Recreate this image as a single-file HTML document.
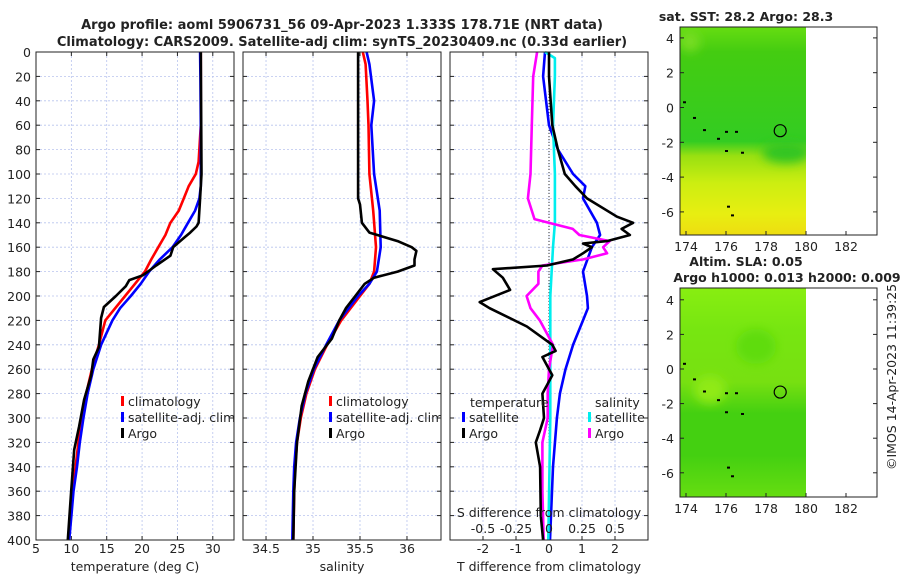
<!DOCTYPE html>
<html><head><meta charset="utf-8"><style>
body{margin:0;background:#fff}
svg{display:block;font-family:"DejaVu Sans","Liberation Sans",sans-serif}
</style></head><body>
<svg id="c" width="900" height="580" viewBox="0 0 900 580"></svg>
<script>
const depths=[0,20,60,90,100,110,120,130,140,150,160,170,180,190,200,210,220,240,260,280,300,320,340,360,380,400];
const tClim=[28.3,28.3,28.3,28,27.6,26.6,25.9,25.2,24,23.3,22.3,21.3,20.4,19,17.6,16.2,14.8,13.9,12.9,12.1,11.5,11,10.6,10.2,9.9,9.6];
const tSat=[28.2,28.25,28.3,28.3,28.3,28.3,28.1,27.5,26.5,25.5,24.3,22.5,21,19.8,18.4,16.9,15.8,14.2,13.1,12.3,11.7,11.2,10.8,10.3,10,9.7];
const argoDepths=[0,100,120,140,143,148,152,160,167,175,183,187,192,200,209,218,242,252,265,285,307,326,362,400];
const tArgo=[28.3,28.4,28.2,28,27.7,26.8,26,24.4,24,22,20.1,18.2,17.7,16.3,14.6,14.2,13.9,13.1,12.8,11.8,11.1,10.4,9.95,9.5];
const sDepths=[0,10,40,60,100,130,160,180,190,200,210,220,240,260,280,300,320,340,360,400];
const sClim=[35.53,35.56,35.58,35.59,35.6,35.64,35.67,35.65,35.6,35.5,35.4,35.3,35.15,35.02,34.93,34.87,34.83,34.81,34.8,34.79];
const sSat=[35.57,35.6,35.65,35.62,35.65,35.71,35.72,35.68,35.6,35.48,35.38,35.28,35.14,35.01,34.92,34.86,34.82,34.8,34.79,34.78];
const sArgoDepths=[0,120,125,140,148,155,160,163,170,175,180,185,190,200,210,220,235,250,270,290,320,360,400];
const sArgo=[35.48,35.48,35.5,35.52,35.6,35.9,36.05,36.1,36.08,36.08,35.9,35.65,35.55,35.45,35.35,35.28,35.2,35.05,34.95,34.88,34.83,34.8,34.79];
const dDepths=[0,20,60,80,100,110,120,140,150,160,180,200,210,220,240,260,280,300,340,400];
const dTSat=[-0.12,-0.18,0,0.27,0.73,1.1,1.03,1.45,1.55,1.3,1.03,1.15,1.18,1.03,0.73,0.5,0.33,0.24,0.12,0.03];
const dArgoDepths=[0,20,60,80,100,110,120,135,140,145,150,155,157,160,165,170,175,178,185,195,205,210,225,240,245,250,265,280,300,310,320,340,380,400];
const dTArgo=[0,0,0.1,0.27,0.48,0.8,1.15,2.06,2.55,2.2,2.45,1.76,1.03,1.3,1.03,0.73,-0.06,-1.7,-1.4,-1.18,-2.1,-1.8,-0.67,0.1,0.2,-0.2,0.1,-0.2,-0.15,-0.27,-0.4,-0.27,-0.25,-0.18];
const dSDepths=[0,5,20,60,100,140,160,200,250,300,400];
const dSSat=[-0.03,0.045,0.045,0.03,0.045,0.045,0.03,0.01,0.01,0.01,-0.005];
const dSArgoDepths=[0,20,60,100,120,130,137,145,150,155,160,165,170,175,180,190,200,210,220,240,260,280,300,320,360,400];
const dSArgo=[-0.09,-0.12,-0.13,-0.14,-0.16,-0.13,-0.11,0.18,0.23,0.46,0.41,0.44,0.26,-0.05,-0.08,-0.08,-0.17,-0.14,-0.07,0.03,0,-0.01,-0.01,-0.05,-0.05,-0.04];
const depthTicks=[0,20,40,60,80,100,120,140,160,180,200,220,240,260,280,300,320,340,360,380,400];
const tTicks=[5,10,15,20,25,30];
const sTicks=[34.5,35,35.5,36];
const dTTicks=[-2,-1,0,1,2];
const dSTicks=[-0.5,-0.25,0,0.25,0.5];
const dSTickLabels=["-0.5","-0.25","0","0.25","0.5"];
const lonTicks=[174,176,178,180,182];
const latTicks=[4,2,0,-2,-4,-6];

const NS="http://www.w3.org/2000/svg", svg=document.getElementById('c');
function el(t,a,p){const e=document.createElementNS(NS,t);for(const k in a)e.setAttribute(k,a[k]);(p||svg).appendChild(e);return e;}
function txt(s,x,y,a,p){const e=el('text',Object.assign({x:x,y:y,'font-size':12.5,fill:'#222'},a),p);e.textContent=s;return e;}
const Y0=52,Y1=540;
const yD=d=>Y0+d*(Y1-Y0)/400;
function panel(name,x0,x1,vmin,vmax){
  const g=el('g',{});
  const sx=v=>x0+(v-vmin)/(vmax-vmin)*(x1-x0);
  return {g,sx,x0,x1};
}
function grid(p,xt,showY){
  depthTicks.forEach(d=>{el('line',{x1:p.x0,x2:p.x1,y1:yD(d),y2:yD(d),stroke:'#b8c4ee','stroke-width':0.8,'stroke-dasharray':'2,2'},p.g);
    el('line',{x1:p.x0,x2:p.x0+4,y1:yD(d),y2:yD(d),stroke:'#222'},p.g);el('line',{x1:p.x1,x2:p.x1-4,y1:yD(d),y2:yD(d),stroke:'#222'},p.g);
    if(showY){const t=txt(String(d),p.x0-5,yD(d)+5,{'text-anchor':'end'},p.g);}});
  xt.forEach(v=>{const x=p.sx(v);el('line',{x1:x,x2:x,y1:Y0,y2:Y1,stroke:'#b8c4ee','stroke-width':0.8,'stroke-dasharray':'2,2'},p.g);
    el('line',{x1:x,x2:x,y1:Y1,y2:Y1-4,stroke:'#222'},p.g);el('line',{x1:x,x2:x,y1:Y0,y2:Y0+4,stroke:'#222'},p.g);});
}
function frame(p){el('rect',{x:p.x0,y:Y0,width:p.x1-p.x0,height:Y1-Y0,fill:'none',stroke:'#222','stroke-width':1},p.g);}
function line(p,ds,vs,col,w,name){const pts=ds.map((d,i)=>p.sx(vs[i]).toFixed(1)+','+yD(d).toFixed(1)).join(' ');
  const e=el('polyline',{points:pts,fill:'none',stroke:col,'stroke-width':w,'stroke-linejoin':'round'},p.g);
  }
function xlabels(p,ticks,labels,y){ticks.forEach((v,i)=>{const t=txt(labels?labels[i]:String(v),p.sx(v),y,{'text-anchor':'middle'},p.g);});}
function leg(p,x,y,col,label){el('rect',{x:x,y:y-10,width:3,height:10,fill:col},p.g);const t=txt(label,x+7,y,{},p.g);}

let t=txt('Argo profile: aoml 5906731_56 09-Apr-2023 1.333S 178.71E (NRT data)',342,29,{'text-anchor':'middle','font-weight':'bold','font-size':13});

t=txt('Climatology: CARS2009. Satellite-adj clim: synTS_20230409.nc (0.33d earlier)',342,46,{'text-anchor':'middle','font-weight':'bold','font-size':13});


const p1=panel('temperature-panel',36,234,5,33);grid(p1,tTicks,true);
line(p1,depths,tClim,'#f00',2.6,'temp-climatology-line');line(p1,depths,tSat,'#00f',2.6,'temp-satellite-line');line(p1,argoDepths,tArgo,'#000',2.6,'temp-argo-line');
frame(p1);xlabels(p1,tTicks,null,553);
t=txt('temperature (deg C)',135,571,{'text-anchor':'middle'},p1.g);
leg(p1,121,406,'#f00','climatology');leg(p1,121,422,'#00f','satellite-adj. clim');leg(p1,121,438,'#000','Argo');

const p2=panel('salinity-panel',243,441,34.255,36.362);grid(p2,sTicks,false);
line(p2,sDepths,sClim,'#f00',2.6,'sal-climatology-line');line(p2,sDepths,sSat,'#00f',2.6,'sal-satellite-line');line(p2,sArgoDepths,sArgo,'#000',2.6,'sal-argo-line');
frame(p2);xlabels(p2,sTicks,null,553);
t=txt('salinity',342,571,{'text-anchor':'middle'},p2.g);
el('rect',{x:p2.x1+0.5,y:400,width:10,height:30,fill:'#fff'},svg);
leg(p2,329,406,'#f00','climatology');leg(p2,329,422,'#00f','satellite-adj. clim');leg(p2,329,438,'#000','Argo');

const p3=panel('difference-panel',450,648,-3,3);grid(p3,dTTicks,false);
const p3s={g:p3.g,sx:v=>p3.sx(v*4),x0:450,x1:648};
el('line',{x1:p3.sx(0),x2:p3.sx(0),y1:Y0,y2:Y1,stroke:'#333','stroke-width':1,'stroke-dasharray':'1,2'},p3.g);
line(p3,dDepths,dTSat,'#00f',2.6,'tdiff-satellite-line');
line(p3s,dSDepths,dSSat,'#0ee',2.6,'sdiff-satellite-line');
line(p3s,dSArgoDepths,dSArgo,'#f0f',2.6,'sdiff-argo-line');
line(p3,dArgoDepths,dTArgo,'#000',2.6,'tdiff-argo-line');
frame(p3);xlabels(p3,dTTicks,null,553);
t=txt('T difference from climatology',549,571,{'text-anchor':'middle'},p3.g);
t=txt('S difference from climatology',549,517,{'text-anchor':'middle'},p3.g);
dSTicks.forEach((v,i)=>{const q=txt(dSTickLabels[i],p3s.sx(v),533,{'text-anchor':'middle'},p3.g);});
t=txt('temperature',470,407,{},p3.g);
t=txt('salinity',595,407,{},p3.g);
leg(p3,462,422,'#00f','satellite');leg(p3,462,438,'#000','Argo');
leg(p3,588,422,'#0ee','satellite');leg(p3,588,438,'#f0f','Argo');

function map(name,top,bottomY,stops,lat0y,lpd,titles,patches){
  const g=el('g',{});
  const id=name+'-grad';const def=el('defs',{},g);const lg=el('linearGradient',{id:id,x1:0,y1:0,x2:0,y2:1},def);
  stops.forEach(s=>el('stop',{offset:s[0],'stop-color':s[1]},lg));
  const flt=el('filter',{id:id+'-blur'},def);el('feGaussianBlur',{stdDeviation:5},flt);
  const lx=v=>686+(v-174)*20, ly=v=>lat0y-v*lpd;
  el('rect',{x:680,y:top,width:lx(180)-680,height:bottomY-top,fill:'url(#'+id+')'},g);
  const cp=el('clipPath',{id:id+'-clip'},def);el('rect',{x:680,y:top,width:lx(180)-680,height:bottomY-top},cp);
  const pg=el('g',{'clip-path':'url(#'+id+'-clip)'},g);
  const pg2=el('g',{filter:'url(#'+id+'-blur)'},pg);
  patches.forEach(p=>el('ellipse',{cx:lx(p[0]),cy:ly(p[1]),rx:p[2]*20,ry:p[3]*lpd,fill:p[4]},pg2));
  el('rect',{x:680,y:top,width:197,height:bottomY-top,fill:'none',stroke:'#222'},g);
  lonTicks.forEach(v=>{el('line',{x1:lx(v),x2:lx(v),y1:bottomY,y2:bottomY-4,stroke:'#222'},g);const q=txt(String(v),lx(v),bottomY+16,{'text-anchor':'middle'},g);});
  latTicks.forEach(v=>{el('line',{x1:680,x2:684,y1:ly(v),y2:ly(v),stroke:'#222'},g);el('line',{x1:877,x2:873,y1:ly(v),y2:ly(v),stroke:'#222'},g);const q=txt(String(v),674,ly(v)+5,{'text-anchor':'end'},g);});
  const c=el('circle',{cx:lx(178.71),cy:ly(-1.333),r:6,fill:'none',stroke:'#000','stroke-width':1.2},g);
  [[173.9,0.3],[174.4,-0.6],[174.9,-1.3],[175.6,-1.8],[176,-1.4],[176.5,-1.4],[176,-2.5],[176.8,-2.6],[176.1,-5.7],[176.3,-6.2]].forEach(p=>el('rect',{x:lx(p[0])-1,y:ly(p[1])-1,width:3,height:2,fill:'#000'},g));
  titles.forEach((s,i)=>{const q=txt(s,i==titles.length-1&&titles.length>1?787:746,top-6-(titles.length-1-i)*16,{'text-anchor':'middle','font-weight':'bold','font-size':12.5},g);});
}
map('sst-map',27,235,[[0,'#66dd11'],[0.12,'#44cc11'],[0.55,'#33cc22'],[0.62,'#99e011'],[0.75,'#ccee11'],[0.9,'#e8ee11'],[1,'#eedd11']],107.5,17.4,['sat. SST: 28.2 Argo: 28.3'],
  [[179,-2.6,1.2,0.6,'#33c522'],[174.2,3.8,0.5,0.6,'#77dd22']]);
map('sla-map',288,497,[[0,'#88ee11'],[0.2,'#77e611'],[0.45,'#77e011'],[0.6,'#44d011'],[0.8,'#44d011'],[1,'#66dd11']],369,17.3,['Altim. SLA: 0.05','Argo h1000: 0.013 h2000: 0.009'],
  [[177.5,1.3,1,1,'#5fdc11'],[175.2,-1.2,0.8,0.8,'#90ea18']]);
t=txt('©IMOS 14-Apr-2023 11:39:25',0,0,{transform:'translate(896,470) rotate(-90)'});
</script>
</body></html>
